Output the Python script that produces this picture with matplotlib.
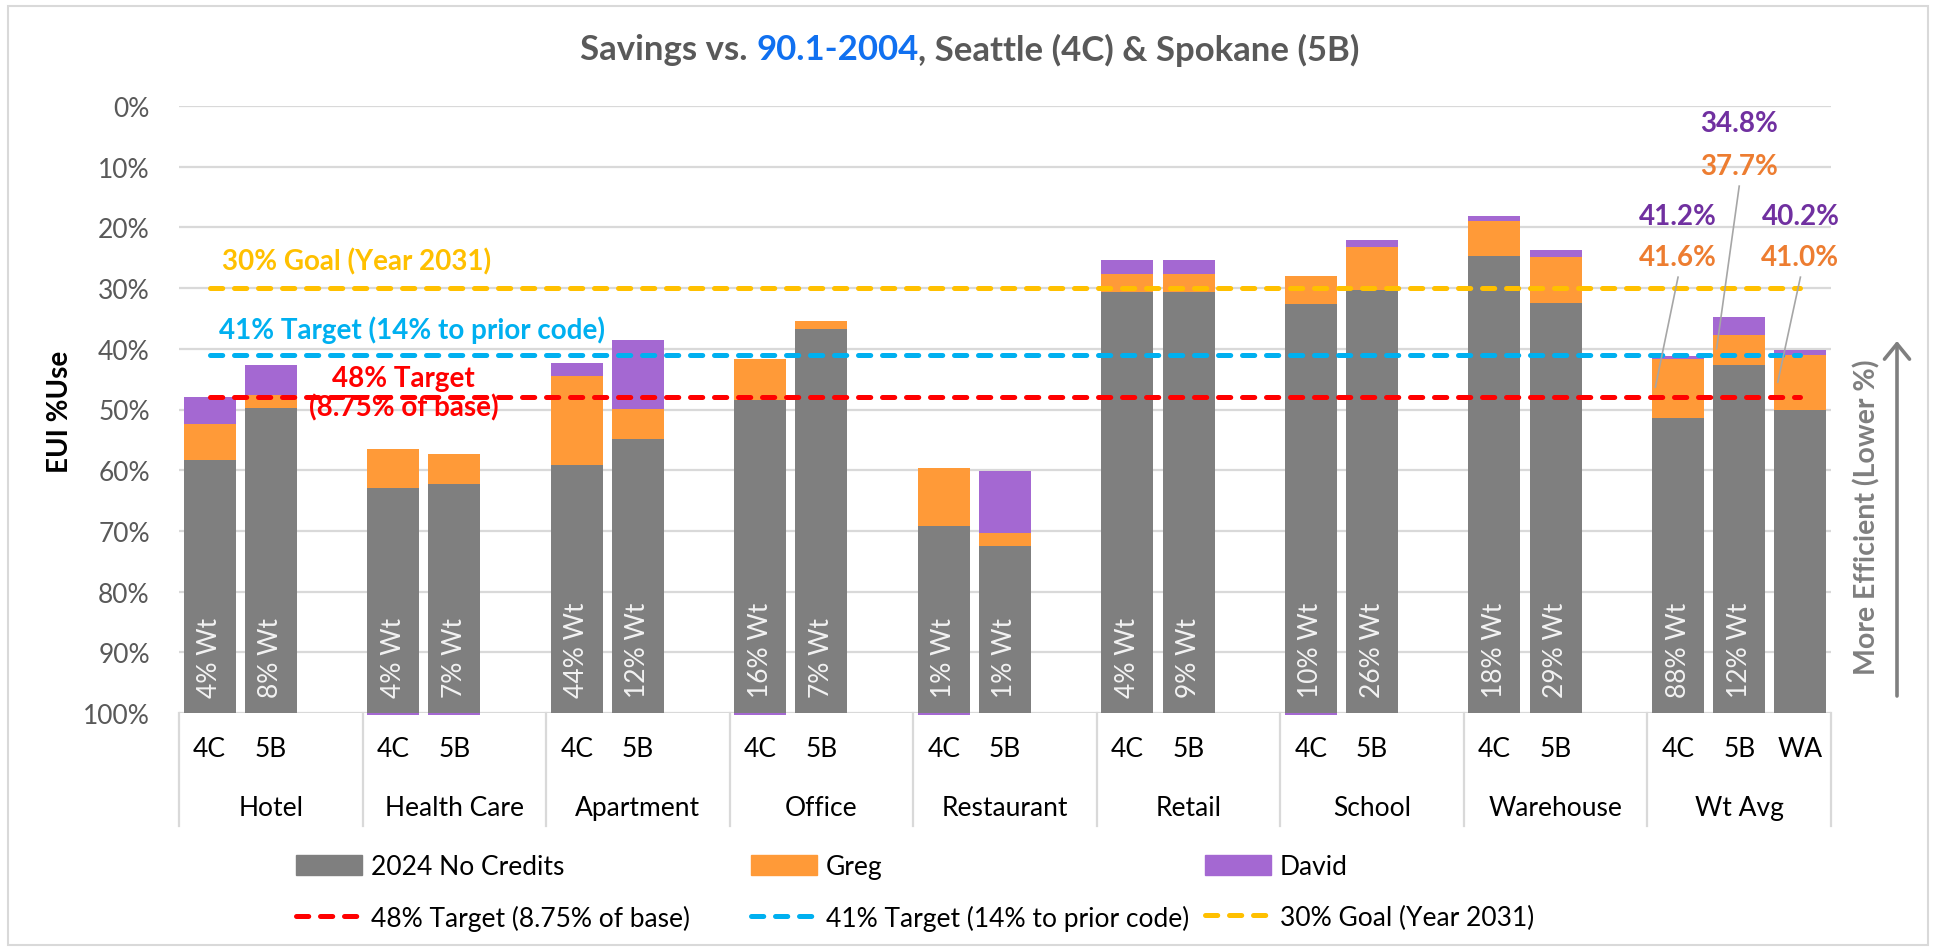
import numpy as np
import matplotlib
matplotlib.use("Agg")
import matplotlib.pyplot as plt
from matplotlib.patches import Patch, Rectangle, FancyArrowPatch

plt.rcParams['font.family'] = ['Lato', 'DejaVu Sans']

# ---- data (EUI % of 90.1-2004 baseline) ----
groups = ['Hotel', 'Health Care', 'Apartment', 'Office', 'Restaurant',
          'Retail', 'School', 'Warehouse', 'Wt Avg']
bars_per_group = [2, 2, 2, 2, 2, 2, 2, 2, 3]
zones = ['4C', '5B', '4C', '5B', '4C', '5B', '4C', '5B', '4C', '5B',
         '4C', '5B', '4C', '5B', '4C', '5B', '4C', '5B', 'WA']
weights = ['4% Wt', '8% Wt', '4% Wt', '7% Wt', '44% Wt', '12% Wt', '16% Wt', '7% Wt',
           '1% Wt', '1% Wt', '4% Wt', '9% Wt', '10% Wt', '26% Wt', '18% Wt', '29% Wt',
           '88% Wt', '12% Wt', '']
no_credits = [58.3, 49.7, 62.9, 62.3, 59.1, 54.9, 48.5, 36.7, 69.2, 72.5,
              30.7, 30.7, 32.7, 30.3, 24.7, 32.4, 51.4, 42.7, 50.1]
greg = [5.9, 2.1, 6.4, 4.9, 14.7, 5.0, 6.9, 1.2, 9.5, 2.1,
        3.1, 3.1, 4.7, 7.1, 5.8, 7.6, 9.8, 5.0, 9.1]
david = [4.5, 4.9, -0.3, -0.3, 2.0, 11.3, -0.3, 0.0, -0.3, 10.2,
         2.2, 2.2, -0.3, 1.1, 0.8, 1.1, 0.4, 2.9, 0.8]
target_48 = 48
target_41 = 41
goal_30 = 30

W, H = 1940, 953
FS = 19
FSB = 20
GRAY, ORANGE, PURPLE = '#7F7F7F', '#FF9A38', '#A468D2'
RED, BLUE, YELLOW = '#FF0000', '#00B0F0', '#FFC000'

fig = plt.figure(figsize=(W / 100, H / 100), dpi=100)
ax = fig.add_axes([179 / W, 1 - 714 / H, (1831 - 179) / W, (714 - 107) / H])

x = np.array([3 * g + k + 0.5 for g, n in enumerate(bars_per_group) for k in range(n)])
nc = np.array(no_credits)
gr = np.array(greg)
dv = np.array(david)

bw = 0.85
ax.bar(x, nc - 100, bottom=100, width=bw, color=GRAY, lw=0, zorder=2)
ax.bar(x, -gr, bottom=nc, width=bw, color=ORANGE, lw=0, zorder=2)
d_bottom = np.where(dv >= 0, nc - gr, 100)
ax.bar(x, -dv, bottom=d_bottom, width=bw, color=PURPLE, lw=0, zorder=2, clip_on=False)

# target lines
line_kw = dict(lw=3.6, dashes=(2.45, 2.35), dash_capstyle='round', zorder=4)
xs = [x[0], x[-1]]
ln30, = ax.plot(xs, [goal_30] * 2, color=YELLOW, **line_kw)
ln41, = ax.plot(xs, [target_41] * 2, color=BLUE, **line_kw)
ln48, = ax.plot(xs, [target_48] * 2, color=RED, **line_kw)

ax.text(0.7, 25.5, '30% Goal (Year 2031)', color=YELLOW, fontsize=FSB, fontweight='bold',
        ha='left', va='center', zorder=5)
ax.text(0.65, 36.7, '41% Target (14% to prior code)', color=BLUE, fontsize=FSB,
        fontweight='bold', ha='left', va='center', zorder=5)
ax.text(3.67, 47.3, '48% Target\n(8.75% of base)', color=RED, fontsize=FSB,
        fontweight='bold', ha='center', va='center', linespacing=1.1, zorder=5)

# weight labels inside bars
for xi, w in zip(x, weights):
    if w:
        ax.text(xi, 97.4, w, rotation=90, ha='center', va='bottom', color='#F2F2F2',
                fontsize=FS, zorder=5)

# axes styling
ax.set_xlim(0, 27)
ax.set_ylim(100, 0)
ax.set_yticks(range(0, 101, 10))
ax.set_yticklabels([f'{v}%' for v in range(0, 101, 10)], color='#595959', fontsize=FS)
ax.tick_params(axis='y', length=0, pad=21)
ax.set_xticks([])
for s in ax.spines.values():
    s.set_visible(False)
ax.yaxis.grid(True, color='#D9D9D9', lw=1.6)
ax.set_axisbelow(True)

# two-level category axis
xt = ax.get_xaxis_transform()
for xi, z in zip(x, zones):
    ax.text(xi, -0.059, z, transform=xt, ha='center', va='center', fontsize=FS, color='black')
start = 0
for g, n in zip(groups, bars_per_group):
    ax.text(start + 1.5, -0.155, g, transform=xt, ha='center', va='center', fontsize=FS,
            color='black')
    start += 3
for b in range(0, 28, 3):
    ax.plot([b, b], [0, -0.186], transform=xt, color='#D9D9D9', lw=1.6, clip_on=False)

# weighted average callouts
lab_y_purple = [18.1, 2.8, 18.1]
lab_y_orange = [24.9, 9.9, 24.9]
lead_end_y = [46.3, 40.0, 45.5]
for i, idx in enumerate(range(len(x) - 3, len(x))):
    xc = x[idx]
    ax.text(xc, lab_y_purple[i], f'{nc[idx] - gr[idx] - dv[idx]:.1f}%', color='#7030A0',
            fontsize=FSB, fontweight='bold', ha='center', va='center', zorder=6)
    ax.text(xc, lab_y_orange[i], f'{nc[idx] - gr[idx]:.1f}%', color='#ED7D31',
            fontsize=FSB, fontweight='bold', ha='center', va='center', zorder=6)
    ax.plot([xc, xc - 0.37], [lab_y_orange[i] + 3.3, lead_end_y[i]], color='#A6A6A6',
            lw=1.2, zorder=6)

# y label and efficiency arrow
fig.text(60 / W, 1 - 412 / H, 'EUI %Use', rotation=90, ha='center', va='center',
         fontsize=20, fontweight='bold', color='black')
fig.text(1867 / W, 1 - 517 / H, 'More Efficient (Lower %)', rotation=90, ha='center',
         va='center', fontsize=20.5, fontweight='bold', color=GRAY)
fig.add_artist(FancyArrowPatch(
    (1897 / W, 1 - 697 / H), (1897 / W, 1 - 342 / H), transform=fig.transFigure,
    arrowstyle='->,head_length=0.55,head_width=0.45', mutation_scale=20,
    color=GRAY, lw=2.6, shrinkA=0, shrinkB=0))

# title with coloured code reference
parts = [('Savings vs. ', '#595959'), ('90.1-2004', '#1070F0'),
         (', Seattle (4C) & Spokane (5B)', '#595959')]
tfs = 25
texts = [fig.text(0, 1 - 50 / H, s, color=c, fontsize=tfs, fontweight='bold',
                  ha='left', va='center') for s, c in parts]
fig.canvas.draw()
r = fig.canvas.get_renderer()
probe = fig.text(0, 0, '|', fontsize=tfs, fontweight='bold')
pw = probe.get_window_extent(r).width
adv = []
for t in texts:
    probe.set_text(t.get_text() + '|')
    adv.append(probe.get_window_extent(r).width - pw)
probe.remove()
x0 = 970 - sum(adv) / 2
for t, a in zip(texts, adv):
    t.set_x(x0 / W)
    x0 += a

# legend, three columns
col_x = [296, 751, 1205]
cols = [([Patch(color=GRAY), ln48], ['2024 No Credits', '48% Target (8.75% of base)']),
        ([Patch(color=ORANGE), ln41], ['Greg', '41% Target (14% to prior code)']),
        ([Patch(color=PURPLE), ln30], ['David', '30% Goal (Year 2031)'])]
for cx, (hs, ls) in zip(col_x, cols):
    fig.legend(hs, ls, loc='upper left', bbox_to_anchor=(cx / W, 1 - 855 / H),
               frameon=False, fontsize=FS, handlelength=2.5, handleheight=0.8,
               handletextpad=0.33, labelspacing=0.98, borderpad=0, borderaxespad=0)

fig.add_artist(Rectangle((8 / W, 7 / H), (1928 - 8) / W, (946 - 7) / H,
                         transform=fig.transFigure, fill=False, ec='#D9D9D9', lw=1.5))

fig.savefig('out.png', dpi=100)
